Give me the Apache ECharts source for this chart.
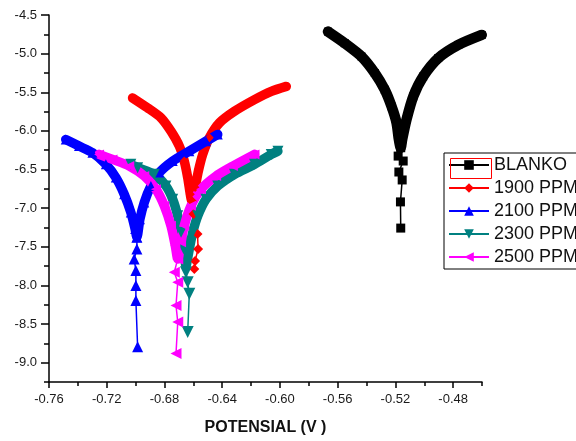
<!DOCTYPE html>
<html>
<head>
<meta charset="utf-8">
<script src="https://cdn.jsdelivr.net/npm/echarts@6/dist/echarts.min.js"></script>
<style>
  html, body { margin: 0; padding: 0; background: #fff; }
  #chart { width: 576px; height: 441px; }
</style>
</head>
<body>
<div id="chart"></div>
<script>
// Tafel polarization curves: log current density vs. potential (V)
const seriesNames = ['BLANKO', '1900 PPM', '2100 PPM', '2300 PPM', '2500 PPM'];
const xTicks = [-0.76, -0.72, -0.68, -0.64, -0.60, -0.56, -0.52, -0.48];
const yTicks = [-9.0, -8.5, -8.0, -7.5, -7.0, -6.5, -6.0, -5.5, -5.0, -4.5];

// Cathodic + anodic branches (dense part of each scan)
const blankoBand = [[-0.5667,-4.715],[-0.5551,-4.865],[-0.5435,-5.037],[-0.5343,-5.251],[-0.5274,-5.467],[-0.5227,-5.682],[-0.5192,-5.896],[-0.5176,-6.111],[-0.5163,-6.218],[-0.5153,-6.111],[-0.5123,-5.853],[-0.5076,-5.553],[-0.5007,-5.295],[-0.4903,-5.058],[-0.4764,-4.887],[-0.4602,-4.758]];
const blankoTail = [[-0.5163,-6.218],[-0.5181,-6.326],[-0.5146,-6.390],[-0.5176,-6.532],[-0.5153,-6.635],[-0.5165,-6.919],[-0.5163,-7.258]];

const ppm1900Band = [[-0.7021,-5.573],[-0.6917,-5.702],[-0.6824,-5.831],[-0.6755,-6.004],[-0.6697,-6.197],[-0.6663,-6.390],[-0.6639,-6.604],[-0.6621,-6.820],[-0.6611,-6.906],[-0.6588,-6.733],[-0.6565,-6.519],[-0.6535,-6.304],[-0.6489,-6.089],[-0.6419,-5.896],[-0.6315,-5.746],[-0.6176,-5.595],[-0.6060,-5.488],[-0.5956,-5.424]];
const ppm1900Tail = [[-0.6611,-6.906],[-0.6599,-7.077],[-0.6571,-7.335],[-0.6567,-7.528],[-0.6588,-7.683],[-0.6593,-7.786]];

const ppm2100Band = [[-0.7484,-6.111],[-0.7392,-6.197],[-0.7299,-6.282],[-0.7206,-6.433],[-0.7137,-6.604],[-0.7079,-6.820],[-0.7033,-7.055],[-0.7003,-7.271],[-0.6991,-7.378],[-0.6970,-7.142],[-0.6940,-6.927],[-0.6894,-6.713],[-0.6836,-6.540],[-0.6743,-6.390],[-0.6628,-6.262],[-0.6512,-6.133],[-0.6431,-6.046]];
const ppm2100Tail = [[-0.6991,-7.378],[-0.6991,-7.528],[-0.7010,-7.657],[-0.6998,-7.808],[-0.6998,-8.001],[-0.6998,-8.194],[-0.6986,-8.795]];

const ppm2300Band = [[-0.7033,-6.433],[-0.6986,-6.476],[-0.6871,-6.562],[-0.6790,-6.713],[-0.6743,-6.884],[-0.6708,-7.099],[-0.6685,-7.313],[-0.6667,-7.528],[-0.6651,-7.744],[-0.6628,-7.528],[-0.6604,-7.313],[-0.6569,-7.099],[-0.6512,-6.884],[-0.6431,-6.713],[-0.6315,-6.562],[-0.6176,-6.433],[-0.6060,-6.304],[-0.6014,-6.262]];
const ppm2300Tail = [[-0.6651,-7.744],[-0.6651,-7.829],[-0.6639,-7.958],[-0.6628,-8.108],[-0.6639,-8.602]];

const ppm2500Band = [[-0.7253,-6.304],[-0.7160,-6.369],[-0.7044,-6.455],[-0.6940,-6.584],[-0.6859,-6.755],[-0.6801,-6.970],[-0.6755,-7.228],[-0.6725,-7.486],[-0.6708,-7.657],[-0.6685,-7.442],[-0.6663,-7.228],[-0.6616,-6.970],[-0.6547,-6.755],[-0.6442,-6.584],[-0.6326,-6.455],[-0.6176,-6.304]];
const ppm2500Tail = [[-0.6708,-7.657],[-0.6732,-7.829],[-0.6708,-7.958],[-0.6720,-8.259],[-0.6708,-8.473],[-0.6720,-8.881]];

const curves = [
  { name: seriesNames[0], color: '#000000', symbol: 'rect',     rotate: 0,   size: 9,  width: 10.5, band: blankoBand,  tail: blankoTail },
  { name: seriesNames[1], color: '#ff0000', symbol: 'diamond',  rotate: 0,   size: 10, width: 9.5,  band: ppm1900Band, tail: ppm1900Tail },
  { name: seriesNames[2], color: '#0000ff', symbol: 'triangle', rotate: 0,   size: 11, width: 9.5,  band: ppm2100Band, tail: ppm2100Tail },
  { name: seriesNames[3], color: '#008080', symbol: 'triangle', rotate: 180, size: 12, width: 9.5,  band: ppm2300Band, tail: ppm2300Tail },
  { name: seriesNames[4], color: '#ff00ff', symbol: 'triangle', rotate: 90,  size: 11, width: 9.5,  band: ppm2500Band, tail: ppm2500Tail }
];

const FONT = 'Liberation Sans, Arial, sans-serif';
const series = [];
curves.forEach(function (c) {
  // sparse points around the corrosion potential: thin line with markers
  series.push({
    name: c.name, type: 'line', data: c.tail,
    xAxisIndex: 0, yAxisIndex: 0,
    symbol: c.symbol, symbolRotate: c.rotate, symbolSize: c.size,
    showSymbol: true, showAllSymbol: true,
    lineStyle: { color: c.color, width: 1.5 },
    itemStyle: { color: c.color },
    z: 3
  });
  // densely sampled branches: thick band of overlapping markers
  series.push({
    name: c.name, type: 'line', data: c.band,
    xAxisIndex: 0, yAxisIndex: 0,
    symbol: c.symbol, symbolRotate: c.rotate, symbolSize: c.size - 1,
    showSymbol: true, showAllSymbol: true,
    smooth: 0.25,
    lineStyle: { color: c.color, width: c.width, join: 'round', cap: 'round' },
    itemStyle: { color: c.color },
    z: 3
  });
});

const axisLineStyle = { color: '#000', width: 1.5 };
const labelStyle = { fontSize: 13, fontFamily: FONT, color: '#1a1a1a' };

const option = {
  animation: false,
  backgroundColor: '#ffffff',
  grid: { left: 49, right: 94, top: 15, bottom: 57, containLabel: false },
  xAxis: [
    {
      type: 'value', min: -0.76, max: -0.46, interval: 0.04, position: 'bottom',
      axisLine: { show: true, onZero: false, lineStyle: axisLineStyle },
      axisTick: { show: true, length: 6, customValues: xTicks, lineStyle: axisLineStyle },
      axisLabel: Object.assign({ customValues: xTicks, margin: 11, formatter: function (v) { return v.toFixed(2); } }, labelStyle),
      splitLine: { show: false },
      name: 'POTENSIAL (V )', nameLocation: 'middle', nameGap: 38,
      nameTextStyle: { fontSize: 16, fontWeight: 'bold', fontFamily: FONT, color: '#111' }
    },
    {
      type: 'value', min: -0.76, max: -0.46, interval: 0.02, position: 'bottom',
      axisLine: { show: false }, axisLabel: { show: false }, splitLine: { show: false },
      axisTick: { show: true, length: 4, lineStyle: axisLineStyle }
    }
  ],
  yAxis: [
    {
      type: 'value', min: -9.25, max: -4.5, interval: 0.25, position: 'left',
      axisLine: { show: true, onZero: false, lineStyle: axisLineStyle },
      axisTick: { show: true, length: 8, customValues: yTicks, lineStyle: axisLineStyle },
      axisLabel: Object.assign({ customValues: yTicks, margin: 12, formatter: function (v) { return v.toFixed(1); } }, labelStyle),
      splitLine: { show: false }
    },
    {
      type: 'value', min: -9.25, max: -4.5, interval: 0.25, position: 'left',
      axisLine: { show: false }, axisLabel: { show: false }, splitLine: { show: false },
      axisTick: { show: true, length: 5, lineStyle: axisLineStyle }
    }
  ],
  legend: {
    data: seriesNames,
    orient: 'vertical', left: 444, top: 153,
    padding: [3, 4, 3, 4],
    itemWidth: 40, itemHeight: 12, itemGap: 5,
    borderColor: '#000', borderWidth: 1,
    textStyle: { fontSize: 18, lineHeight: 18, fontFamily: FONT, color: '#111' }
  },
  graphic: [
    {
      type: 'rect', left: 448, top: 156, z: 100,
      shape: { width: 41, height: 20 },
      style: { fill: null, stroke: '#ff0000', lineWidth: 1 }
    }
  ],
  series: series
};

const chart = echarts.init(document.getElementById('chart'), null, { renderer: 'canvas' });
chart.setOption(option);
</script>
</body>
</html>
